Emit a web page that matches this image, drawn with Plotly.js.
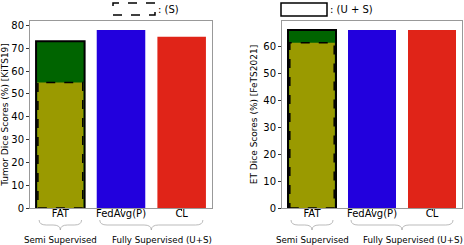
<!DOCTYPE html>
<html><head><meta charset="utf-8">
<script src="https://cdn.plot.ly/plotly-3.0.1.min.js"></script>
<style>html,body{margin:0;padding:0;background:#fff}#chart{width:464px;height:245px}</style>
</head><body><div id="chart"></div>
<script>
const categories = ['FAT', 'FedAvg(P)', 'CL'];
const kitsTotal = [73, 78, 75];      // (U + S)
const kitsSemiS = [55];              // FAT (S) part
const fetsTotal = [66, 66, 66];      // (U + S)
const fetsSemiS = [61.2];            // FAT (S) part
const groupLabels = ['Semi Supervised', 'Fully Supervised (U+S)'];
const groupSpans = [[0, 0], [1, 2]];
const yTitles = ['Tumor Dice Scores (%) [KiTS19]', 'ET Dice Scores (%) [FeTS2021]'];

const barColors = ['#006400', '#2200dd', '#e02418'];
const olive = '#9a9a00';
const W = 0.8;
const FONT = 'DejaVu Sans, sans-serif';
const idx = categories.map((_, i) => i);

function totalTrace(vals, ax) {
  return {type: 'bar', x: idx, y: vals, width: W, xaxis: ax.x, yaxis: ax.y,
    marker: {color: barColors, line: {color: ['#000', 'rgba(0,0,0,0)', 'rgba(0,0,0,0)'], width: [2, 0, 0]}},
    hoverinfo: 'skip', showlegend: false};
}
function semiTrace(vals, ax) {
  return {type: 'bar', x: [0], y: vals, width: W - 0.04, xaxis: ax.x, yaxis: ax.y,
    marker: {color: olive, line: {width: 0}}, hoverinfo: 'skip', showlegend: false};
}
const ax1 = {x: 'x', y: 'y'}, ax2 = {x: 'x2', y: 'y2'};
const data = [totalTrace(kitsTotal, ax1), semiTrace(kitsSemiS, ax1),
              totalTrace(fetsTotal, ax2), semiTrace(fetsSemiS, ax2)];

const shapes = [];
const annotations = [];
function addDashed(val, xr, yr) {
  shapes.push({type: 'rect', xref: xr, yref: yr, x0: 0 - W / 2 + 0.03, x1: 0 + W / 2 - 0.03, y0: 0, y1: val,
    line: {color: '#000', width: 1.5, dash: 'dash'}, fillcolor: 'rgba(0,0,0,0)'});
}
addDashed(kitsSemiS[0], 'x', 'y');
addDashed(fetsSemiS[0], 'x2', 'y2');

function brace(a, b, xr) {
  const x0 = a - W / 2 + 0.05, x1 = b + W / 2 - 0.05, xm = (x0 + x1) / 2;
  const yt = 1 - 220 / 245, ym = 1 - 225 / 245, yb = 1 - 230 / 245, d = 0.12;
  const p = `M ${x0},${yt} Q ${x0},${ym} ${x0 + d},${ym} L ${xm - d},${ym} Q ${xm},${ym} ${xm},${yb} ` +
            `Q ${xm},${ym} ${xm + d},${ym} L ${x1 - d},${ym} Q ${x1},${ym} ${x1},${yt}`;
  shapes.push({type: 'path', xref: xr, yref: 'paper', path: p, line: {color: '#aaa', width: 0.8}});
}
['x', 'x2'].forEach(xr => {
  groupSpans.forEach((s, g) => {
    brace(s[0], s[1], xr);
    annotations.push({xref: xr, yref: 'paper', x: (s[0] + s[1]) / 2 + (g === 1 ? 0.18 : 0), y: 1 - 240 / 245,
      text: groupLabels[g], showarrow: false, font: {family: FONT, size: 8.7, color: '#000'}, yanchor: 'middle'});
  });
});

// legend keys
shapes.push({type: 'rect', xref: 'paper', yref: 'paper', x0: 113 / 464, x1: 155 / 464, y0: 1 - 15 / 245, y1: 1 - 3 / 245,
  line: {color: '#000', width: 1.5, dash: 'dash'}, fillcolor: 'rgba(0,0,0,0)'});
shapes.push({type: 'rect', xref: 'paper', yref: 'paper', x0: 281 / 464, x1: 327 / 464, y0: 1 - 16 / 245, y1: 1 - 3 / 245,
  line: {color: '#000', width: 1.5}, fillcolor: 'rgba(0,0,0,0)'});
annotations.push({xref: 'paper', yref: 'paper', x: 156 / 464, y: 1 - 9 / 245, xanchor: 'left', yanchor: 'middle',
  text: ': (S)', showarrow: false, font: {family: FONT, size: 10, color: '#000'}});
annotations.push({xref: 'paper', yref: 'paper', x: 328 / 464, y: 1 - 9 / 245, xanchor: 'left', yanchor: 'middle',
  text: ': (U + S)', showarrow: false, font: {family: FONT, size: 10, color: '#000'}});

function xaxis(dom, anchor) {
  return {domain: dom, anchor: anchor, range: [-0.5, 2.5], tickvals: idx, ticktext: categories,
    showline: true, mirror: true, linecolor: '#999', linewidth: 1, ticks: 'outside', ticklen: 2, tickcolor: '#333',
    ticklabelstandoff: -6,
    showgrid: false, zeroline: false, tickfont: {family: FONT, size: 10, color: '#000'}, fixedrange: true};
}
function yaxis(dom, anchor, max, title) {
  return {domain: dom, anchor: anchor, range: [0, max], dtick: 10, showline: true, mirror: true,
    linecolor: '#999', linewidth: 1, ticks: 'outside', ticklen: 3, tickcolor: '#333', showgrid: false, zeroline: false,
    tickfont: {family: FONT, size: 10, color: '#000'},
    title: {text: title, font: {family: FONT, size: 9, color: '#000'}, standoff: 4}, fixedrange: true};
}
const yd = [1 - 208 / 245, 1 - 21 / 245];
const layout = {
  width: 464, height: 245, margin: {l: 0, r: 0, t: 0, b: 0}, paper_bgcolor: '#fff', plot_bgcolor: '#fff',
  barmode: 'overlay', showlegend: false, font: {family: FONT},
  xaxis: xaxis([30 / 464, 212 / 464], 'y'),
  yaxis: yaxis(yd, 'x', Math.max(...kitsTotal) * 1.05, yTitles[0]),
  xaxis2: xaxis([282 / 464, 462 / 464], 'y2'),
  yaxis2: yaxis(yd, 'x2', Math.max(...fetsTotal) * 1.05, yTitles[1]),
  shapes: shapes, annotations: annotations
};
Plotly.newPlot('chart', data, layout, {displayModeBar: false, staticPlot: true});
</script></body></html>
